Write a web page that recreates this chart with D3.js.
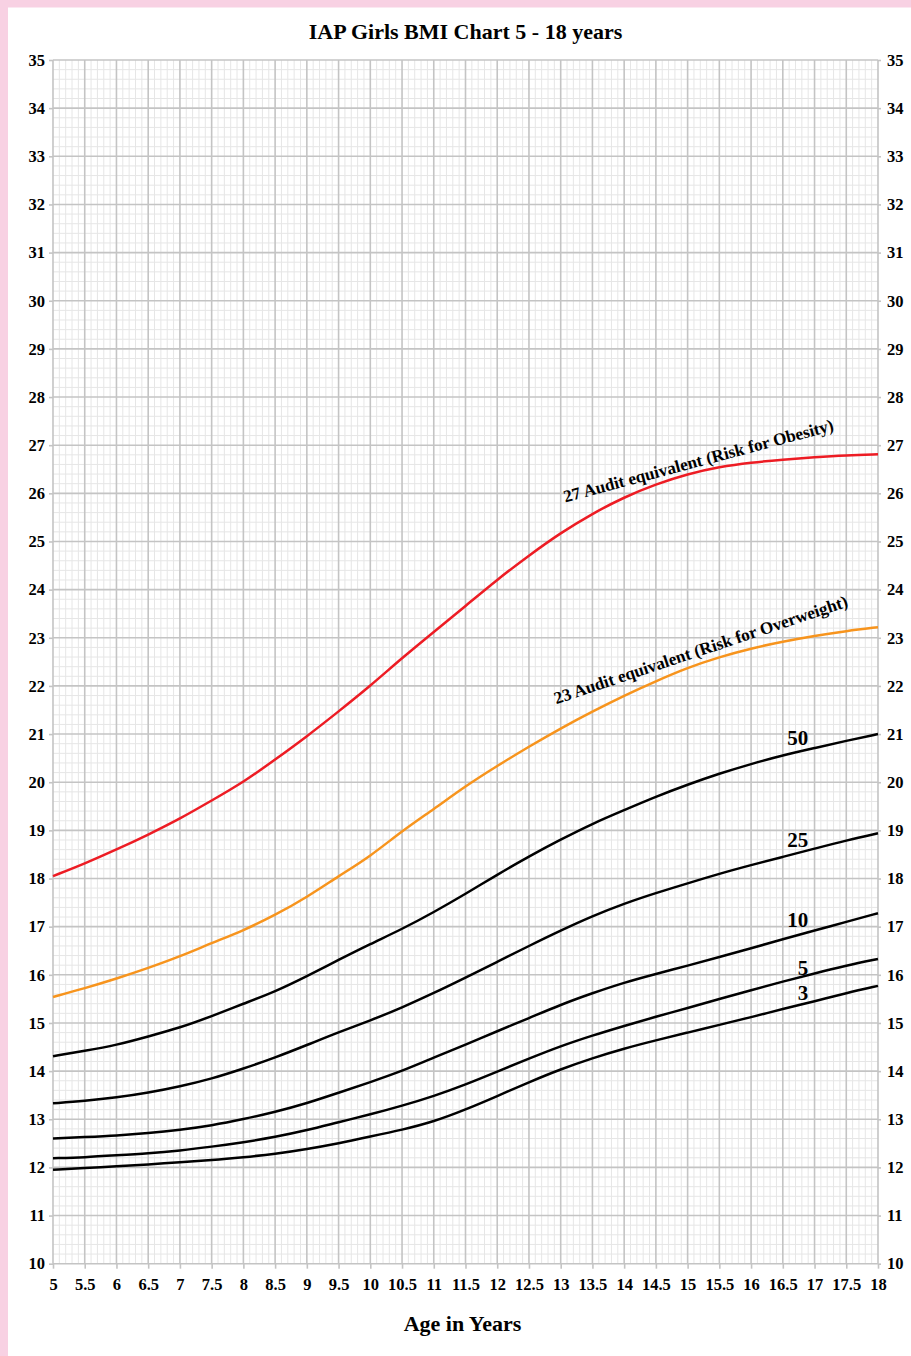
<!DOCTYPE html>
<html>
<head>
<meta charset="utf-8">
<script src="https://cdn.jsdelivr.net/npm/d3@7"></script>
<style>
  body { margin: 0; background: #fff; }
  svg { display: block; }
</style>
</head>
<body>
<div id="wrapper"></div>
<script>
// ages, 0.5 year steps
const ages = [5, 5.5, 6, 6.5, 7, 7.5, 8, 8.5, 9, 9.5, 10, 10.5, 11, 11.5, 12,
  12.5, 13, 13.5, 14, 14.5, 15, 15.5, 16, 16.5, 17, 17.5, 18];

// BMI values
const adult27 = [18.05, 18.31, 18.6, 18.91, 19.24, 19.62, 20.0, 20.47, 20.95, 21.47, 22.0, 22.58, 23.12, 23.66, 24.21,
  24.71, 25.18, 25.58, 25.92, 26.19, 26.4, 26.55, 26.64, 26.7, 26.75, 26.79, 26.81];
const adult23 = [15.54, 15.72, 15.92, 16.14, 16.38, 16.66, 16.92, 17.24, 17.61, 18.05, 18.46, 18.99, 19.44, 19.92, 20.34,
  20.74, 21.12, 21.47, 21.8, 22.1, 22.38, 22.6, 22.78, 22.92, 23.04, 23.14, 23.22];
const p50 = [14.31, 14.42, 14.54, 14.72, 14.9, 15.14, 15.4, 15.65, 15.97, 16.31, 16.64, 16.95, 17.3, 17.68, 18.08,
  18.46, 18.81, 19.14, 19.42, 19.7, 19.95, 20.18, 20.38, 20.56, 20.71, 20.86, 21.0];
const p25 = [13.33, 13.38, 13.45, 13.55, 13.68, 13.84, 14.05, 14.28, 14.54, 14.81, 15.05, 15.32, 15.62, 15.94, 16.27,
  16.6, 16.92, 17.22, 17.48, 17.7, 17.9, 18.1, 18.28, 18.45, 18.62, 18.79, 18.94];
const p10 = [12.6, 12.63, 12.66, 12.71, 12.78, 12.87, 13.0, 13.15, 13.33, 13.55, 13.77, 14.0, 14.28, 14.55, 14.83,
  15.1, 15.38, 15.62, 15.84, 16.02, 16.19, 16.37, 16.55, 16.74, 16.92, 17.1, 17.28];
const p5 = [12.19, 12.21, 12.25, 12.29, 12.35, 12.43, 12.52, 12.63, 12.77, 12.94, 13.1, 13.28, 13.48, 13.72, 13.99,
  14.26, 14.52, 14.74, 14.94, 15.13, 15.31, 15.5, 15.68, 15.86, 16.03, 16.19, 16.33];
const p3 = [11.95, 11.99, 12.02, 12.06, 12.11, 12.15, 12.21, 12.28, 12.38, 12.5, 12.64, 12.78, 12.95, 13.2, 13.48,
  13.77, 14.04, 14.27, 14.47, 14.64, 14.8, 14.96, 15.12, 15.29, 15.45, 15.62, 15.77];

const xTicks = d3.range(5, 18.01, 0.5);
const yTicks = d3.range(10, 35.01, 1);

const width = 911, height = 1356;
const margin = { top: 60, right: 33, bottom: 92.3, left: 53 };
const font = "'Liberation Serif', 'Times New Roman', serif";

const svg = d3.select("#wrapper")
  .append("svg")
  .attr("width", width)
  .attr("height", height);

svg.append("rect").attr("width", width).attr("height", height).attr("fill", "#fff");
// pink frame (left and top)
svg.append("rect").attr("x", 0).attr("y", 0).attr("width", 8).attr("height", height).attr("fill", "#f8d1e3");
svg.append("rect").attr("x", 0).attr("y", 0).attr("width", width).attr("height", 7.5).attr("fill", "#f8d1e3");

const x = d3.scaleLinear().domain([5, 18]).range([margin.left, width - margin.right]);
const y = d3.scaleLinear().domain([10, 35]).range([height - margin.bottom, margin.top]);

// grid
const grid = svg.append("g");
const minorX = d3.range(50, 181).map(d => d / 10).filter(d => Math.round(d * 10) % 5 !== 0);
const minorY = d3.range(50, 176).map(d => d / 5).filter(d => Math.round(d * 5) % 5 !== 0);

grid.selectAll(".mx").data(minorX).enter().append("line")
  .attr("x1", d => x(d)).attr("x2", d => x(d))
  .attr("y1", y(10)).attr("y2", y(35))
  .attr("stroke", "#e6e6e6").attr("stroke-width", 1);
grid.selectAll(".my").data(minorY).enter().append("line")
  .attr("x1", x(5)).attr("x2", x(18))
  .attr("y1", d => y(d)).attr("y2", d => y(d))
  .attr("stroke", "#e6e6e6").attr("stroke-width", 1);
grid.selectAll(".Mx").data(xTicks).enter().append("line")
  .attr("x1", d => x(d)).attr("x2", d => x(d))
  .attr("y1", y(10)).attr("y2", y(35))
  .attr("stroke", "#c4c4c4").attr("stroke-width", 1.6);
grid.selectAll(".My").data(yTicks).enter().append("line")
  .attr("x1", x(5)).attr("x2", x(18))
  .attr("y1", d => y(d)).attr("y2", d => y(d))
  .attr("stroke", "#c4c4c4").attr("stroke-width", 1.6);

// axes
function styleAxis(g) {
  g.select(".domain").remove();
  g.selectAll(".tick line").attr("stroke", "#c4c4c4").attr("stroke-width", 1.6);
  g.selectAll(".tick text")
    .attr("fill", "#000")
    .attr("font-family", font)
    .attr("font-weight", "bold")
    .attr("font-size", 16.5);
}

svg.append("g")
  .attr("transform", `translate(${margin.left},0)`)
  .call(d3.axisLeft(y).tickValues(yTicks).tickFormat(d3.format("d")).tickSize(4).tickPadding(4))
  .call(styleAxis);

svg.append("g")
  .attr("transform", `translate(${width - margin.right},0)`)
  .call(d3.axisRight(y).tickValues(yTicks).tickFormat(d3.format("d")).tickSize(3).tickPadding(6))
  .call(styleAxis);

svg.append("g")
  .attr("transform", `translate(0,${height - margin.bottom})`)
  .call(d3.axisBottom(x).tickValues(xTicks).tickFormat(d => d).tickSize(5).tickPadding(10))
  .call(styleAxis);

// curves
const line = d3.line()
  .curve(d3.curveBasis)
  .x((d, i) => x(ages[i]))
  .y(d => y(d));

const series = [
  { values: p3, color: "#000" },
  { values: p5, color: "#000" },
  { values: p10, color: "#000" },
  { values: p25, color: "#000" },
  { values: p50, color: "#000" },
  { values: adult23, color: "#f7941d" },
  { values: adult27, color: "#ed1c24" }
];

svg.append("g")
  .selectAll("path")
  .data(series)
  .enter()
  .append("path")
  .attr("d", d => line(d.values))
  .attr("fill", "none")
  .attr("stroke", d => d.color)
  .attr("stroke-width", 2.5);

// percentile labels
const pLabels = [
  { text: "50", bmi: 20.78 },
  { text: "25", bmi: 18.66 },
  { text: "10", bmi: 17.0 },
  { text: "5", bmi: 16.0 },
  { text: "3", bmi: 15.48 }
];
svg.append("g")
  .selectAll("text")
  .data(pLabels)
  .enter()
  .append("text")
  .attr("x", x(16.9))
  .attr("y", d => y(d.bmi))
  .attr("text-anchor", "end")
  .attr("font-family", font)
  .attr("font-weight", "bold")
  .attr("font-size", 21)
  .text(d => d.text);

// rotated adult equivalent labels
const aLabels = [
  { text: "27 Audit equivalent (Risk for Obesity)", age: 13.07, bmi: 25.81, angle: -15 },
  { text: "23 Audit equivalent (Risk for Overweight)", age: 12.93, bmi: 21.62, angle: -18.5 }
];
svg.append("g")
  .selectAll("text")
  .data(aLabels)
  .enter()
  .append("text")
  .attr("transform", d => `translate(${x(d.age)},${y(d.bmi)}) rotate(${d.angle})`)
  .attr("font-family", font)
  .attr("font-weight", "bold")
  .attr("font-size", 17.2)
  .text(d => d.text);

// titles
svg.append("text")
  .attr("x", (x(5) + x(18)) / 2)
  .attr("y", 39)
  .attr("text-anchor", "middle")
  .attr("font-family", font)
  .attr("font-weight", "bold")
  .attr("font-size", 22)
  .text("IAP Girls BMI Chart 5 - 18 years");

svg.append("text")
  .attr("x", (x(5) + x(18)) / 2 - 3)
  .attr("y", 1331)
  .attr("text-anchor", "middle")
  .attr("font-family", font)
  .attr("font-weight", "bold")
  .attr("font-size", 22)
  .text("Age in Years");
</script>
</body>
</html>
